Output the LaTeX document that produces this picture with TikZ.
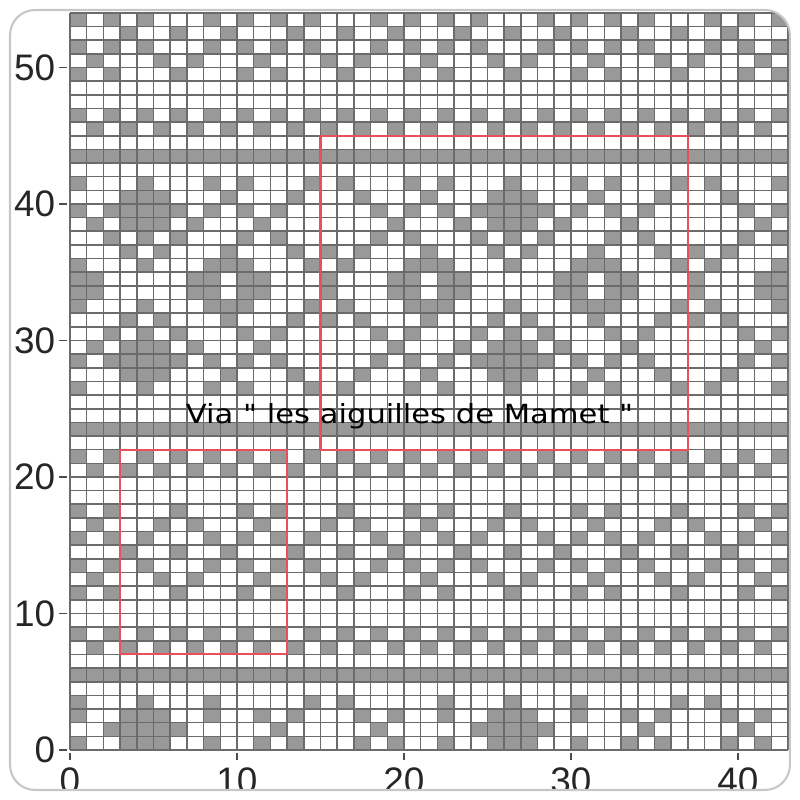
\documentclass[tikz,border=0pt]{standalone}
\usepackage{fontspec}
\usepackage{graphicx}
\setmainfont{Liberation Sans}
\newfontfamily\notefont{DejaVu Sans}

\definecolor{repeatred}{RGB}{232,80,92}

\tikzset{
    stitch/.style={fill=black!40},
    gridline/.style={draw=black!58, line width=0.45pt},
    repeatbox/.style={draw=repeatred, line width=0.6pt},
    ticklabel/.style={font=\fontsize{10.5}{12}\selectfont, text=black!85, inner sep=0pt},
    chartframe/.style={draw=black!22, line width=0.6pt, rounded corners=2.5mm}
}

% one chart row: row, repeat width, shift, filled cells of the repeat
\newcommand{\chartrow}[4]{%
  \pgfmathtruncatemacro\kmax{43/#2+1}%
  \edef\celllist{#4}%
  \foreach \p in \celllist{%
    \foreach \k in {-1,...,\kmax}{%
      \pgfmathtruncatemacro\cc{#3+\p+\k*#2}%
      \ifnum\cc>-1 \ifnum\cc<43 \fill[stitch] (\cc,#1) rectangle ++(1,1);\fi\fi
    }}}

\begin{document}
\begin{tikzpicture}[x=1.67mm, y=1.365mm]
\useasboundingbox (-4.192,-3.663) rectangle (43.713,54.945);
\begin{scope}
\clip[rounded corners=2.5mm] (-3.593,-2.93) rectangle (43.11,54.21);

% bottom border
\chartrow{0}{22}{0}{0,3,4,5,8,11,13,17,19}
\chartrow{1}{22}{0}{2,3,4,5,6,12,18}
\chartrow{2}{22}{0}{0,3,4,5,8,11,13,17,19}
\chartrow{3}{22}{0}{0,4,8,14,16}
\fill[stitch] (0,5) rectangle (43,6);

% small lattice band
\chartrow{7}{2}{1}{0}
\chartrow{8}{2}{0}{0}
\chartrow{11}{10}{0}{0,2,6}
\chartrow{12}{10}{0}{1,5,7}
\chartrow{13}{10}{0}{0,2,4,8}
\chartrow{14}{10}{0}{3,6,9}
\chartrow{15}{10}{0}{0,2,4,8}
\chartrow{16}{10}{0}{1,5,7}
\chartrow{17}{10}{0}{0,2,6}
\chartrow{20}{2}{1}{0}
\chartrow{21}{2}{0}{0}
\fill[stitch] (0,23) rectangle (43,24);

% large band, mirrored about row 33.5
\foreach \r/\cells in {
    41/{0,4,8,10,14,16,20},
    40/{3,4,5,9,13,17,21},
    39/{0,2,3,4,5,6,8,10,12,18,20},
    38/{1,3,4,5,7,11,19},
    37/{2,4,6,10,12,18,20},
    36/{3,5,9,13,15,17,21},
    35/{0,4,8,9,10,14,16,20,21},
    34/{0,1,7,8,10,11,15,19,20}}{
  \chartrow{\r}{22}{0}{\cells}
  \pgfmathtruncatemacro\rr{67-\r}
  \chartrow{\rr}{22}{0}{\cells}
}
\fill[stitch] (0,43) rectangle (43,44);

% top border
\chartrow{45}{2}{1}{0}
\chartrow{46}{2}{0}{0}
\chartrow{49}{10}{0}{0,2,6}
\chartrow{50}{10}{0}{1,5,7}
\chartrow{51}{10}{0}{0,2,4,8}
\chartrow{52}{10}{0}{3,6,9}
\chartrow{53}{10}{0}{0,2,4,8}

% grid
\foreach \i in {0,...,43} \draw[gridline] (\i,0) -- (\i,54);
\foreach \j in {0,...,54} \draw[gridline] (0,\j) -- (43,\j);

% repeats
\draw[repeatbox] (3,7) rectangle (13,22);
\draw[repeatbox] (15,22) rectangle (37,45);

% axes
\foreach \v in {0,10,...,50} {
  \draw[black!70, line width=0.5pt] (-0.65,\v) -- (-0.2,\v);
  \node[ticklabel, anchor=east] (ylab\v) at (-0.85,\v) {\v};
}
\foreach \v in {0,10,...,40} {
  \draw[black!70, line width=0.5pt] (\v,-0.2) -- (\v,-0.7);
  \node[ticklabel, anchor=base] (xlab\v) at (\v,-3.2) {\v};
}

\node[anchor=base west, inner sep=0pt, font=\notefont\fontsize{7.5}{9}\selectfont] (credit) at (6.9,23.9)
  {\scalebox{1.16}[1]{Via " les aiguilles de Mamet "}};
\end{scope}
\draw[chartframe] (-3.593,-2.93) rectangle (43.11,54.21);
\end{tikzpicture}
\end{document}
